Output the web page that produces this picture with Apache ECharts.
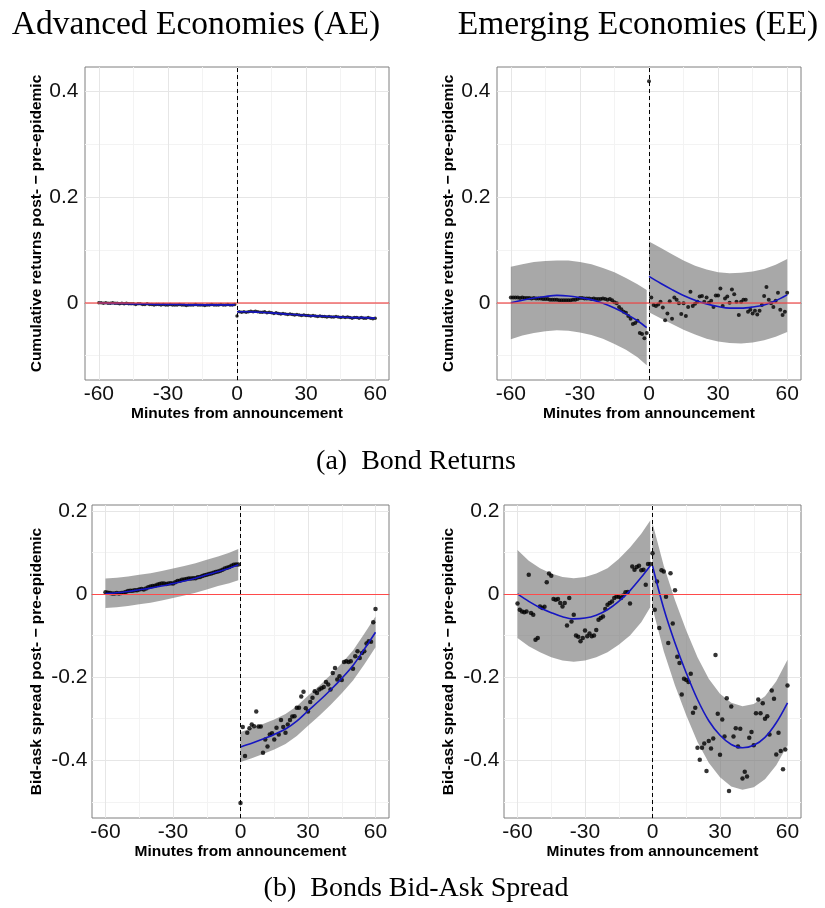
<!DOCTYPE html>
<html>
<head>
<meta charset="utf-8">
<title>Bond returns and bid-ask spreads around announcements</title>
<script src="https://cdn.jsdelivr.net/npm/echarts@6.0.0/dist/echarts.min.js"></script>
<style>
  html, body { margin: 0; padding: 0; background: #ffffff; }
  #chart { width: 825px; height: 908px; }
</style>
</head>
<body>
<div id="chart"></div>
<script>
// ---------- axes ----------
const X_TICKS = [-60, -30, 0, 30, 60];
const X_MINOR = [-45, -15, 15, 45];
const RET_Y_TICKS = [0, 0.2, 0.4];
const RET_Y_MINOR = [-0.1, 0.1, 0.3];
const SPREAD_Y_TICKS = [-0.4, -0.2, 0, 0.2];
const SPREAD_Y_MINOR = [-0.5, -0.3, -0.1, 0.1];

// ---------- text ----------
const PANEL_TITLES = ['Advanced Economies (AE)', 'Emerging Economies (EE)'];
const CAPTIONS = ['(a)  Bond Returns', '(b)  Bonds Bid-Ask Spread'];
const X_NAME = 'Minutes from announcement';
const RET_Y_NAME = 'Cumulative returns post- \u2212 pre-epidemic';
const SPREAD_Y_NAME = 'Bid-ask spread post- \u2212 pre-epidemic';

// ---------- minutes ----------
const MINUTES_PRE = [-60, -59, -58, -57, -56, -55, -54, -53, -52, -51, -50, -49, -48, -47, -46,
  -45, -44, -43, -42, -41, -40, -39, -38, -37, -36, -35, -34, -33, -32, -31,
  -30, -29, -28, -27, -26, -25, -24, -23, -22, -21, -20, -19, -18, -17, -16,
  -15, -14, -13, -12, -11, -10, -9, -8, -7, -6, -5, -4, -3, -2, -1];
const MINUTES_POST = [0, 1, 2, 3, 4, 5, 6, 7, 8, 9, 10, 11, 12, 13, 14, 15, 16, 17, 18, 19, 20,
  21, 22, 23, 24, 25, 26, 27, 28, 29, 30, 31, 32, 33, 34, 35, 36, 37, 38, 39, 40,
  41, 42, 43, 44, 45, 46, 47, 48, 49, 50, 51, 52, 53, 54, 55, 56, 57, 58, 59, 60];
const FIT_MINUTES_PRE = [-60, -55, -50, -45, -40, -35, -30, -25, -20, -15, -10, -5, -1];
const FIT_MINUTES_POST = [0, 5, 10, 15, 20, 25, 30, 35, 40, 45, 50, 55, 60];

// ---------- AE bond returns ----------
const AE_RET_PRE = [0.000, 0.000, -0.001, 0.000, -0.001, -0.001, 0.000, -0.001, -0.001, -0.002,
  -0.001, -0.002, -0.001, -0.002, -0.002, -0.002, -0.003, -0.002, -0.002, -0.003,
  -0.003, -0.002, -0.003, -0.003, -0.004, -0.003, -0.003, -0.004, -0.003, -0.004,
  -0.004, -0.003, -0.004, -0.004, -0.004, -0.003, -0.004, -0.004, -0.005, -0.004,
  -0.004, -0.004, -0.003, -0.004, -0.004, -0.004, -0.005, -0.004, -0.004, -0.003,
  -0.004, -0.004, -0.004, -0.003, -0.004, -0.004, -0.003, -0.004, -0.004, -0.003];
const AE_RET_POST = [-0.025,
  -0.017, -0.018, -0.017, -0.018, -0.017, -0.016, -0.017, -0.016, -0.017, -0.018,
  -0.018, -0.017, -0.019, -0.018, -0.019, -0.020, -0.019, -0.020, -0.021, -0.020,
  -0.021, -0.022, -0.021, -0.022, -0.023, -0.022, -0.023, -0.024, -0.023, -0.024,
  -0.024, -0.025, -0.024, -0.025, -0.026, -0.025, -0.026, -0.026, -0.027, -0.026,
  -0.027, -0.027, -0.026, -0.027, -0.028, -0.027, -0.028, -0.027, -0.028, -0.029,
  -0.028, -0.028, -0.029, -0.028, -0.029, -0.029, -0.028, -0.029, -0.030, -0.029];
const AE_RET_FIT_PRE = [0.000, -0.001, -0.001, -0.002, -0.002, -0.003, -0.003, -0.003, -0.004, -0.004, -0.004, -0.004, -0.004];
const AE_RET_LO_PRE = [-0.0015, -0.0025, -0.0025, -0.0035, -0.0035, -0.0045, -0.0045, -0.0045, -0.0055, -0.0055, -0.0055, -0.0055, -0.0055];
const AE_RET_HI_PRE = [0.0015, 0.0005, 0.0005, -0.0005, -0.0005, -0.0015, -0.0015, -0.0015, -0.0025, -0.0025, -0.0025, -0.0025, -0.0025];
const AE_RET_FIT_POST = [-0.017, -0.017, -0.018, -0.019, -0.021, -0.022, -0.024, -0.025, -0.026, -0.027, -0.028, -0.028, -0.029];
const AE_RET_LO_POST = [-0.0185, -0.0185, -0.0195, -0.0205, -0.0225, -0.0235, -0.0255, -0.0265, -0.0275, -0.0285, -0.0295, -0.0295, -0.0305];
const AE_RET_HI_POST = [-0.0155, -0.0155, -0.0165, -0.0175, -0.0195, -0.0205, -0.0225, -0.0235, -0.0245, -0.0255, -0.0265, -0.0265, -0.0275];

// ---------- EE bond returns ----------
const EE_RET_PRE = [0.010, 0.010, 0.010, 0.010, 0.009, 0.010, 0.009, 0.009, 0.009, 0.008, 0.009, 0.008, 0.008, 0.008, 0.007,
  0.007, 0.007, 0.006, 0.006, 0.006, 0.006, 0.005, 0.005, 0.005, 0.005, 0.005, 0.005, 0.006, 0.006, 0.007,
  0.009, 0.009, 0.008, 0.008, 0.008, 0.007, 0.008, 0.007, 0.007, 0.007, 0.008, 0.007, 0.006, 0.007,
  0.005, 0.001, -0.001, -0.008, -0.012, -0.017, -0.019, -0.025, -0.030, -0.040, -0.038, -0.034, -0.057, -0.059, -0.067, -0.057];
const EE_RET_POST = [0.419,
  0.010, -0.004, -0.006, -0.003, 0.002, -0.009, -0.033, -0.020, 0.003, -0.030,
  0.010, 0.006, -0.001, -0.021, -0.001, -0.025, -0.008, 0.021, -0.006, -0.002,
  0.002, 0.012, 0.013, 0.002, 0.010, 0.000, 0.004, -0.008, 0.014, 0.014,
  0.027, -0.006, 0.008, 0.012, 0.000, 0.025, 0.016, 0.002, -0.023, 0.002,
  0.006, 0.006, -0.017, -0.013, -0.020, -0.015, -0.022, -0.015, -0.004, 0.013,
  0.030, 0.006, -0.001, -0.008, 0.004, 0.019, -0.013, -0.023, -0.017, 0.019];
const EE_RET_FIT_PRE = [0.000, 0.005, 0.009, 0.012, 0.014, 0.013, 0.010, 0.006, -0.001, -0.010, -0.021, -0.034, -0.047];
const EE_RET_LO_PRE = [-0.069, -0.062, -0.057, -0.054, -0.052, -0.053, -0.056, -0.061, -0.068, -0.078, -0.089, -0.103, -0.118];
const EE_RET_HI_PRE = [0.068, 0.073, 0.077, 0.079, 0.080, 0.080, 0.077, 0.073, 0.066, 0.058, 0.047, 0.035, 0.024];
const EE_RET_FIT_POST = [0.050, 0.037, 0.025, 0.014, 0.005, -0.002, -0.007, -0.010, -0.010, -0.008, -0.004, 0.004, 0.015];
const EE_RET_LO_POST = [-0.018, -0.029, -0.040, -0.051, -0.060, -0.068, -0.073, -0.076, -0.077, -0.075, -0.071, -0.064, -0.055];
const EE_RET_HI_POST = [0.116, 0.104, 0.092, 0.080, 0.070, 0.063, 0.058, 0.056, 0.057, 0.059, 0.064, 0.072, 0.083];

// ---------- AE bid-ask spread ----------
const AE_SPR_PRE = [0.004, 0.003, 0.002, 0.001, 0.001, 0.002, 0.001, 0.002, 0.003, 0.005,
  0.007, 0.008, 0.008, 0.009, 0.009, 0.011, 0.012, 0.011, 0.013, 0.016,
  0.018, 0.019, 0.020, 0.022, 0.024, 0.025, 0.025, 0.024, 0.025, 0.026,
  0.025, 0.028, 0.031, 0.032, 0.034, 0.035, 0.036, 0.037, 0.037, 0.038,
  0.038, 0.040, 0.041, 0.043, 0.045, 0.046, 0.048, 0.049, 0.051, 0.053,
  0.054, 0.056, 0.058, 0.061, 0.063, 0.065, 0.068, 0.070, 0.071, 0.071];
const AE_SPR_POST = [-0.503,
  -0.320, -0.390, -0.334, -0.323, -0.314, -0.318, -0.283, -0.319, -0.319, -0.382,
  -0.350, -0.367, -0.338, -0.335, -0.350, -0.322, -0.338, -0.303, -0.320, -0.334,
  -0.314, -0.303, -0.295, -0.294, -0.274, -0.274, -0.247, -0.235, -0.275, -0.283,
  -0.260, -0.250, -0.234, -0.238, -0.230, -0.227, -0.224, -0.212, -0.218, -0.230,
  -0.190, -0.178, -0.206, -0.198, -0.207, -0.164, -0.162, -0.164, -0.162, -0.180,
  -0.150, -0.138, -0.154, -0.142, -0.138, -0.119, -0.114, -0.115, -0.068, -0.036];
const AE_SPR_FIT_PRE = [0.001, 0.003, 0.006, 0.010, 0.014, 0.019, 0.025, 0.031, 0.038, 0.046, 0.054, 0.062, 0.070];
const AE_SPR_LO_PRE = [-0.034, -0.032, -0.029, -0.025, -0.021, -0.016, -0.010, -0.004, 0.003, 0.011, 0.019, 0.026, 0.033];
const AE_SPR_HI_PRE = [0.037, 0.039, 0.042, 0.046, 0.050, 0.055, 0.061, 0.067, 0.074, 0.082, 0.090, 0.099, 0.108];
const AE_SPR_FIT_POST = [-0.368, -0.359, -0.349, -0.338, -0.325, -0.306, -0.281, -0.257, -0.231, -0.203, -0.172, -0.133, -0.092];
const AE_SPR_LO_POST = [-0.404, -0.395, -0.385, -0.374, -0.361, -0.342, -0.317, -0.293, -0.267, -0.239, -0.208, -0.170, -0.128];
const AE_SPR_HI_POST = [-0.332, -0.323, -0.313, -0.302, -0.289, -0.270, -0.245, -0.221, -0.195, -0.167, -0.136, -0.096, -0.054];

// ---------- EE bid-ask spread ----------
const EE_SPR_PRE = [-0.023, -0.038, -0.042, -0.044, -0.042, 0.046, -0.046, -0.050, -0.110, -0.106,
  -0.030, -0.034, -0.031, 0.028, 0.049, 0.044, -0.012, -0.014, -0.012, -0.022,
  -0.030, -0.022, -0.076, -0.010, -0.066, -0.050, -0.100, -0.103, -0.114, -0.106,
  -0.088, -0.102, -0.095, -0.102, -0.100, -0.087, -0.062, -0.058, -0.054, -0.036,
  -0.026, -0.022, -0.018, -0.010, -0.006, -0.007, -0.010, -0.004, 0.004, 0.005,
  -0.023, 0.066, 0.058, 0.065, 0.068, 0.057, 0.058, 0.022, 0.072, 0.072];
const EE_SPR_POST = [0.098,
  -0.038, 0.030, -0.082, 0.057, 0.054, -0.007, -0.118, 0.050, -0.071, 0.009,
  -0.151, -0.166, -0.242, -0.204, -0.207, -0.212, -0.192, -0.286, -0.274, -0.370,
  -0.399, -0.370, -0.360, -0.426, -0.354, -0.372, -0.348, -0.147, -0.288, -0.387,
  -0.302, -0.343, -0.251, -0.474, -0.271, -0.343, -0.323, -0.367, -0.324, -0.444,
  -0.428, -0.439, -0.346, -0.332, -0.364, -0.287, -0.254, -0.287, -0.263, -0.300,
  -0.294, -0.338, -0.232, -0.252, -0.386, -0.334, -0.378, -0.422, -0.374, -0.220];
const EE_SPR_FIT_PRE = [0.000, -0.018, -0.033, -0.045, -0.055, -0.060, -0.058, -0.051, -0.038, -0.018, 0.008, 0.040, 0.068];
const EE_SPR_LO_PRE = [-0.106, -0.126, -0.140, -0.152, -0.160, -0.163, -0.160, -0.152, -0.140, -0.122, -0.100, -0.068, -0.032];
const EE_SPR_HI_PRE = [0.106, 0.080, 0.062, 0.049, 0.041, 0.038, 0.041, 0.049, 0.062, 0.084, 0.112, 0.145, 0.177];
const EE_SPR_FIT_POST = [0.068, -0.035, -0.118, -0.190, -0.254, -0.305, -0.340, -0.362, -0.370, -0.364, -0.345, -0.310, -0.262];
const EE_SPR_LO_POST = [-0.034, -0.138, -0.220, -0.292, -0.356, -0.406, -0.441, -0.463, -0.471, -0.465, -0.446, -0.412, -0.364];
const EE_SPR_HI_POST = [0.170, 0.068, -0.015, -0.088, -0.152, -0.204, -0.240, -0.262, -0.270, -0.265, -0.246, -0.210, -0.158];

// ---------- styling ----------
const SANS = 'Liberation Sans';
const SERIF = 'Liberation Serif';
const BAND_FILL = 'rgba(110,110,110,0.6)';
const FIT_COLOR = '#1616C2';
const MAJOR_GRID = { color: '#E6E6E6', width: 1, type: 'solid' };
const MINOR_GRID = { color: '#F3F3F3', width: 1, type: 'solid' };

const panels = [
  { box: { left: 85, top: 67, width: 304, height: 313 }, yMin: -0.146, yMax: 0.446,
    yTicks: RET_Y_TICKS, yMinor: RET_Y_MINOR, yName: RET_Y_NAME, yNameGap: 40, labelMargin: 6.5,
    zero: { color: 'rgba(240,70,70,0.6)', width: 2 }, dot: 3.5,
    pre: AE_RET_PRE, post: AE_RET_POST,
    fitPre: AE_RET_FIT_PRE, loPre: AE_RET_LO_PRE, hiPre: AE_RET_HI_PRE,
    fitPost: AE_RET_FIT_POST, loPost: AE_RET_LO_POST, hiPost: AE_RET_HI_POST },
  { box: { left: 497, top: 67, width: 304, height: 313 }, yMin: -0.146, yMax: 0.446,
    yTicks: RET_Y_TICKS, yMinor: RET_Y_MINOR, yName: RET_Y_NAME, yNameGap: 40, labelMargin: 6.5,
    zero: { color: 'rgba(240,70,70,0.6)', width: 2 }, dot: 4,
    pre: EE_RET_PRE, post: EE_RET_POST,
    fitPre: EE_RET_FIT_PRE, loPre: EE_RET_LO_PRE, hiPre: EE_RET_HI_PRE,
    fitPost: EE_RET_FIT_POST, loPost: EE_RET_LO_POST, hiPost: EE_RET_HI_POST },
  { box: { left: 92, top: 505, width: 297, height: 313 }, yMin: -0.539, yMax: 0.214,
    yTicks: SPREAD_Y_TICKS, yMinor: SPREAD_Y_MINOR, yName: SPREAD_Y_NAME, yNameGap: 47, labelMargin: 4.5,
    zero: { color: '#FF4A4A', width: 1.2 }, dot: 4.5,
    pre: AE_SPR_PRE, post: AE_SPR_POST,
    fitPre: AE_SPR_FIT_PRE, loPre: AE_SPR_LO_PRE, hiPre: AE_SPR_HI_PRE,
    fitPost: AE_SPR_FIT_POST, loPost: AE_SPR_LO_POST, hiPost: AE_SPR_HI_POST },
  { box: { left: 504, top: 505, width: 297, height: 313 }, yMin: -0.539, yMax: 0.214,
    yTicks: SPREAD_Y_TICKS, yMinor: SPREAD_Y_MINOR, yName: SPREAD_Y_NAME, yNameGap: 47, labelMargin: 4.5,
    zero: { color: '#FF4A4A', width: 1.2 }, dot: 4.5,
    pre: EE_SPR_PRE, post: EE_SPR_POST,
    fitPre: EE_SPR_FIT_PRE, loPre: EE_SPR_LO_PRE, hiPre: EE_SPR_HI_PRE,
    fitPost: EE_SPR_FIT_POST, loPost: EE_SPR_LO_POST, hiPost: EE_SPR_HI_POST }
];

function pairs(xs, ys) { return xs.map((x, k) => [x, ys[k]]); }

// shaded confidence ribbon between the lower and upper limits
function bandSeries(gi, ts, lo, hi) {
  return {
    type: 'custom', coordinateSystem: 'cartesian2d', xAxisIndex: gi, yAxisIndex: gi,
    silent: true, z: 3, clip: true,
    data: ts.map((t, k) => [t, lo[k], hi[k]]),
    encode: { x: 0, y: [1, 2] },
    renderItem: function (params, api) {
      if (params.dataIndex !== 0) return null;
      const upper = ts.map((t, k) => api.coord([t, hi[k]]));
      const lower = ts.map((t, k) => api.coord([t, lo[k]])).reverse();
      return { type: 'polygon', shape: { points: upper.concat(lower) }, style: { fill: BAND_FILL } };
    }
  };
}

function fitSeries(gi, ts, ys) {
  return {
    type: 'line', xAxisIndex: gi, yAxisIndex: gi, data: pairs(ts, ys),
    smooth: 0.35, showSymbol: false, silent: true, z: 5,
    lineStyle: { color: FIT_COLOR, width: 1.6 }
  };
}

const option = {
  animation: false,
  backgroundColor: '#ffffff',
  textStyle: { fontFamily: SANS },
  grid: [], xAxis: [], yAxis: [], series: [],
  graphic: [
    { type: 'text', x: 196, y: 25, style: { text: PANEL_TITLES[0], fontFamily: SERIF, fontSize: 33.5, fill: '#000', align: 'center', verticalAlign: 'middle' } },
    { type: 'text', x: 638, y: 25, style: { text: PANEL_TITLES[1], fontFamily: SERIF, fontSize: 33.5, fill: '#000', align: 'center', verticalAlign: 'middle' } },
    { type: 'text', x: 416, y: 462, style: { text: CAPTIONS[0], fontFamily: SERIF, fontSize: 28, fill: '#000', align: 'center', verticalAlign: 'middle' } },
    { type: 'text', x: 416, y: 889, style: { text: CAPTIONS[1], fontFamily: SERIF, fontSize: 28, fill: '#000', align: 'center', verticalAlign: 'middle' } }
  ]
};

panels.forEach(function (p, gi) {
  option.grid.push(Object.assign({ show: true, borderColor: '#7F7F7F', borderWidth: 1, backgroundColor: '#ffffff' }, p.box));

  option.xAxis.push({
    gridIndex: gi, type: 'value', min: -66, max: 66,
    splitLine: { show: false },
    axisLine: { show: true, lineStyle: { color: '#7F7F7F' } },
    axisTick: { show: true, customValues: X_TICKS, length: 4, lineStyle: { color: '#333333' } },
    axisLabel: { customValues: X_TICKS, formatter: v => String(v), fontSize: 21, color: '#111111', margin: 4, fontFamily: SANS },
    name: X_NAME, nameLocation: 'middle', nameGap: 26,
    nameTextStyle: { fontSize: 15.5, fontWeight: 'bold', color: '#000000', fontFamily: SANS }
  });

  option.yAxis.push({
    gridIndex: gi, type: 'value', min: p.yMin, max: p.yMax,
    splitLine: { show: false },
    axisLine: { show: true, lineStyle: { color: '#7F7F7F' } },
    axisTick: { show: true, customValues: p.yTicks, length: 4, lineStyle: { color: '#333333' } },
    axisLabel: { customValues: p.yTicks, formatter: v => (v === 0 ? '0' : v.toFixed(1)), fontSize: 21, color: '#111111', margin: p.labelMargin, fontFamily: SANS },
    name: p.yName, nameLocation: 'middle', nameGap: p.yNameGap,
    nameTextStyle: { fontSize: 15.5, fontWeight: 'bold', color: '#000000', fontFamily: SANS }
  });

  // panel grid lines, kept beneath the ribbons
  const gridLines = []
    .concat(X_MINOR.map(v => ({ xAxis: v, lineStyle: MINOR_GRID })))
    .concat(p.yMinor.map(v => ({ yAxis: v, lineStyle: MINOR_GRID })))
    .concat(X_TICKS.map(v => ({ xAxis: v, lineStyle: MAJOR_GRID })))
    .concat(p.yTicks.map(v => ({ yAxis: v, lineStyle: MAJOR_GRID })));
  option.series.push({
    type: 'line', xAxisIndex: gi, yAxisIndex: gi, data: [], silent: true, z: 1,
    markLine: { z: 1, silent: true, symbol: ['none', 'none'], label: { show: false }, emphasis: { disabled: true }, data: gridLines }
  });

  option.series.push(bandSeries(gi, FIT_MINUTES_PRE, p.loPre, p.hiPre));
  option.series.push(bandSeries(gi, FIT_MINUTES_POST, p.loPost, p.hiPost));

  option.series.push({
    type: 'scatter', xAxisIndex: gi, yAxisIndex: gi, silent: true, z: 4,
    symbolSize: p.dot, itemStyle: { color: '#000000' },
    data: pairs(MINUTES_PRE, p.pre).concat(pairs(MINUTES_POST, p.post))
  });

  option.series.push(fitSeries(gi, FIT_MINUTES_PRE, p.fitPre));
  option.series.push(fitSeries(gi, FIT_MINUTES_POST, p.fitPost));

  // zero line and announcement marker
  option.series.push({
    type: 'line', xAxisIndex: gi, yAxisIndex: gi, data: [], silent: true, z: 6,
    markLine: {
      z: 7, silent: true, symbol: ['none', 'none'], label: { show: false }, emphasis: { disabled: true },
      data: [
        { yAxis: 0, lineStyle: { color: p.zero.color, width: p.zero.width, type: 'solid' } },
        { xAxis: 0, lineStyle: { color: '#000000', width: 1, type: [4, 3] } }
      ]
    }
  });
});

const chart = echarts.init(document.getElementById('chart'), null, { renderer: 'canvas' });
chart.setOption(option);
</script>
</body>
</html>
